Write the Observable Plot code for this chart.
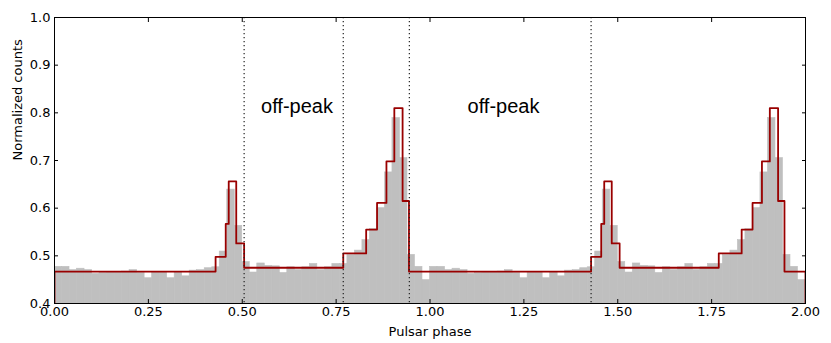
<!DOCTYPE html>
<html>
<head>
<meta charset="utf-8">
<script src="https://cdn.jsdelivr.net/npm/d3@7"></script>
<script src="https://cdn.jsdelivr.net/npm/@observablehq/plot@0.6"></script>
<style>
  html, body { margin: 0; padding: 0; background: #fff; }
  #chart { width: 831px; height: 343px; }
</style>
</head>
<body>
<div id="chart"></div>
<script>
// Gray histogram: normalized counts in 50 phase bins (one rotation), shown twice
const binCounts = [
  0.477, 0.477, 0.470, 0.473, 0.470, 0.462, 0.464, 0.465, 0.465, 0.467,
  0.470, 0.464, 0.453, 0.465, 0.465, 0.453, 0.465, 0.457, 0.469, 0.470,
  0.474, 0.476, 0.509, 0.639, 0.563, 0.487, 0.465, 0.484, 0.479, 0.478,
  0.464, 0.476, 0.470, 0.476, 0.483, 0.470, 0.476, 0.483, 0.483, 0.502,
  0.511, 0.533, 0.556, 0.600, 0.675, 0.789, 0.705, 0.502, 0.477, 0.449
];
// Bayesian-block step profile (block start phase and level), one rotation
const blockStarts = [0, 0.429, 0.456, 0.464, 0.484, 0.505, 0.769, 0.830, 0.859, 0.884, 0.905, 0.927, 0.944];
const blockLevels = [0.467, 0.498, 0.567, 0.656, 0.526, 0.475, 0.505, 0.555, 0.611, 0.698, 0.810, 0.615, 0.467];
// Off-peak interval boundaries (dotted lines)
const offPeakEdges = [0.505, 0.769, 0.945, 1.429];
// Annotations
const labelX = [0.55, 1.1];
const labelY = [0.8, 0.8];
const labelText = ["off-peak", "off-peak"];
// Ticks
const xTicks = [0, 0.25, 0.5, 0.75, 1.0, 1.25, 1.5, 1.75, 2.0];
const yTicks = [0.4, 0.5, 0.6, 0.7, 0.8, 0.9, 1.0];
const periods = [0, 1];

const nBins = binCounts.length;
const hist = periods.flatMap(p => binCounts.map((v, i) => ({x1: p + i / nBins, x2: p + (i + 1) / nBins, y: v})));

const yBase = 0;
const steps = [{x: 0, y: yBase}];
periods.forEach(p => blockStarts.forEach((s, i) => steps.push({x: p + s, y: blockLevels[i]})));
steps.push({x: 2, y: blockLevels[blockLevels.length - 1]});
steps.push({x: 2, y: yBase});

const labels = labelX.map((x, i) => ({x, y: labelY[i], text: labelText[i]}));

const chart = Plot.plot({
  width: 831,
  height: 343,
  marginLeft: 54,
  marginRight: 26,
  marginTop: 17,
  marginBottom: 40,
  style: {fontFamily: "DejaVu Sans", fontSize: "13px", background: "#fff", color: "#000"},
  x: {domain: [0, 2]},
  y: {domain: [0.4, 1.0]},
  marks: [
    Plot.rectY(hist, {x1: "x1", x2: "x2", y: "y", fill: "#bfbfbf", stroke: "#bfbfbf", strokeWidth: 0.6, inset: 0, clip: true}),
    Plot.line(steps, {x: "x", y: "y", curve: "step-after", stroke: "#990000", strokeWidth: 1.8, clip: true}),
    Plot.ruleX(offPeakEdges, {stroke: "#222", strokeWidth: 1.2, strokeDasharray: "1.2,2.8"}),
    Plot.text(labels, {x: "x", y: "y", text: "text", textAnchor: "start", lineAnchor: "bottom",
      fontSize: 20, fontFamily: "Liberation Sans, Arial, sans-serif", fill: "#000"}),
    Plot.frame({stroke: "#000", strokeWidth: 1}),
    Plot.axisX({anchor: "bottom", ticks: xTicks, tickFormat: d3.format(".2f"), tickSize: -4, tickPadding: 7, label: null}),
    Plot.axisX({anchor: "top", ticks: xTicks, tickFormat: () => "", tickSize: -4, label: null}),
    Plot.axisY({anchor: "left", ticks: yTicks, tickFormat: d3.format(".1f"), tickSize: -4, tickPadding: 8, label: null}),
    Plot.axisY({anchor: "right", ticks: yTicks, tickFormat: () => "", tickSize: -4, label: null}),
    Plot.text(["Pulsar phase"], {frameAnchor: "bottom", text: d => d, dy: 28, lineAnchor: "middle"}),
    Plot.text(["Normalized counts"], {frameAnchor: "left", text: d => d, rotate: -90, dx: -37, lineAnchor: "middle"})
  ]
});
document.getElementById("chart").appendChild(chart);
</script>
</body>
</html>
